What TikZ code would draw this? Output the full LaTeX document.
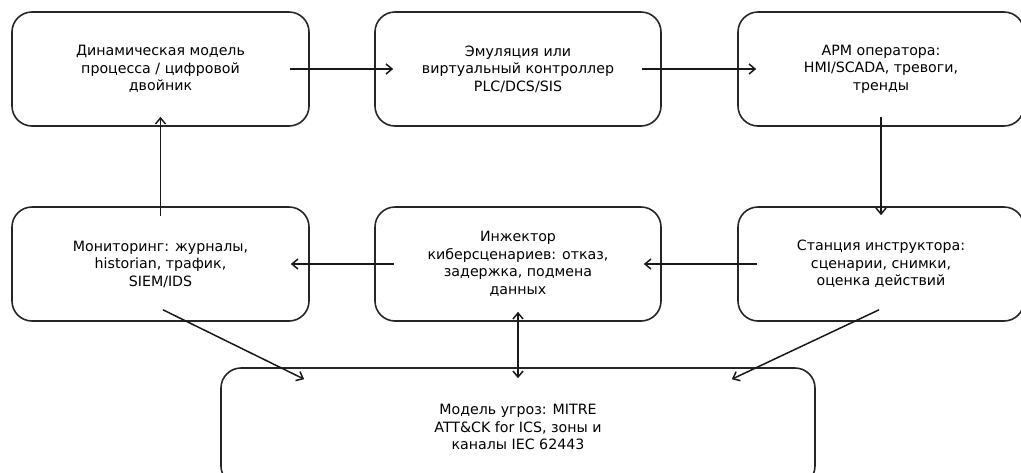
\documentclass[tikz,border=0pt]{standalone}
\usepackage{fontspec}
\setmainfont{DejaVu Sans}
\usetikzlibrary{calc,arrows.meta}
\begin{document}
\begin{tikzpicture}[x=1pt,y=-1pt,
  box/.style={draw=black!85,line width=1.6pt,rounded corners=20pt,minimum width=297pt,minimum height=114pt,align=center,inner sep=0pt,font=\fontsize{14.2}{17.5}\selectfont,text=black},
  arr/.style={draw=black!90,line width=1.5pt,-{Straight Barb[length=6pt,width=10pt,line width=1.5pt]}},
  darr/.style={draw=black!90,line width=1.5pt,{Straight Barb[length=6pt,width=10pt,line width=1.5pt]}-{Straight Barb[length=6pt,width=10pt,line width=1.5pt]}}]
\useasboundingbox (0,0) rectangle (1021,472);
\clip (0,0) rectangle (1021,472);
\node[box] (b1) at (160.5,69) {Динамическая модель\\процесса / цифровой\\двойник};
\node[box,minimum width=286pt] (b2) at (518,69) {Эмуляция или\\виртуальный контроллер\\PLC/DCS/SIS};
\node[box,minimum width=286pt] (b3) at (881,69) {АРМ оператора:\\HMI/SCADA, тревоги,\\тренды};
\node[box] (b4) at (160.5,264) {Мониторинг: журналы,\\historian, трафик,\\SIEM/IDS};
\node[box,minimum width=286pt] (b5) at (518,264) {Инжектор\\киберсценариев: отказ,\\задержка, подмена\\данных};
\node[box,minimum width=286pt] (b6) at (881,264) {Станция инструктора:\\сценарии, снимки,\\оценка действий};
\node[box,minimum width=594pt,minimum height=118pt] (b7) at (518,427) {Модель угроз: MITRE\\ATT\&CK for ICS, зоны и\\каналы IEC 62443};
\draw[arr] ($(b1.east)+(-20,0)$) -- ($(b2.west)+(19,0)$);
\draw[arr] ($(b2.east)+(-20,0)$) -- ($(b3.west)+(19,0)$);
\draw[arr] ($(b3.south)+(0,-10)$) -- ($(b6.north)+(0,9)$);
\draw[arr] ($(b6.west)+(20,0)$) -- ($(b5.east)+(-18,0)$);
\draw[arr] ($(b5.west)+(20,0)$) -- ($(b4.east)+(-19,0)$);
\draw[arr] ($(b4.north)+(0,10)$) -- ($(b1.south)+(0,-10)$);
\draw[arr] ($(b4.south)+(2.5,-12)$) -- ($(b7.north west)+(84,12)$);
\draw[arr] ($(b6.south)+(-2,-12)$) -- ($(b7.north east)+(-84,12)$);
\draw[darr] ($(b5.south)+(0,-10)$) -- ($(b7.north)+(0,11)$);
\end{tikzpicture}
\end{document}
